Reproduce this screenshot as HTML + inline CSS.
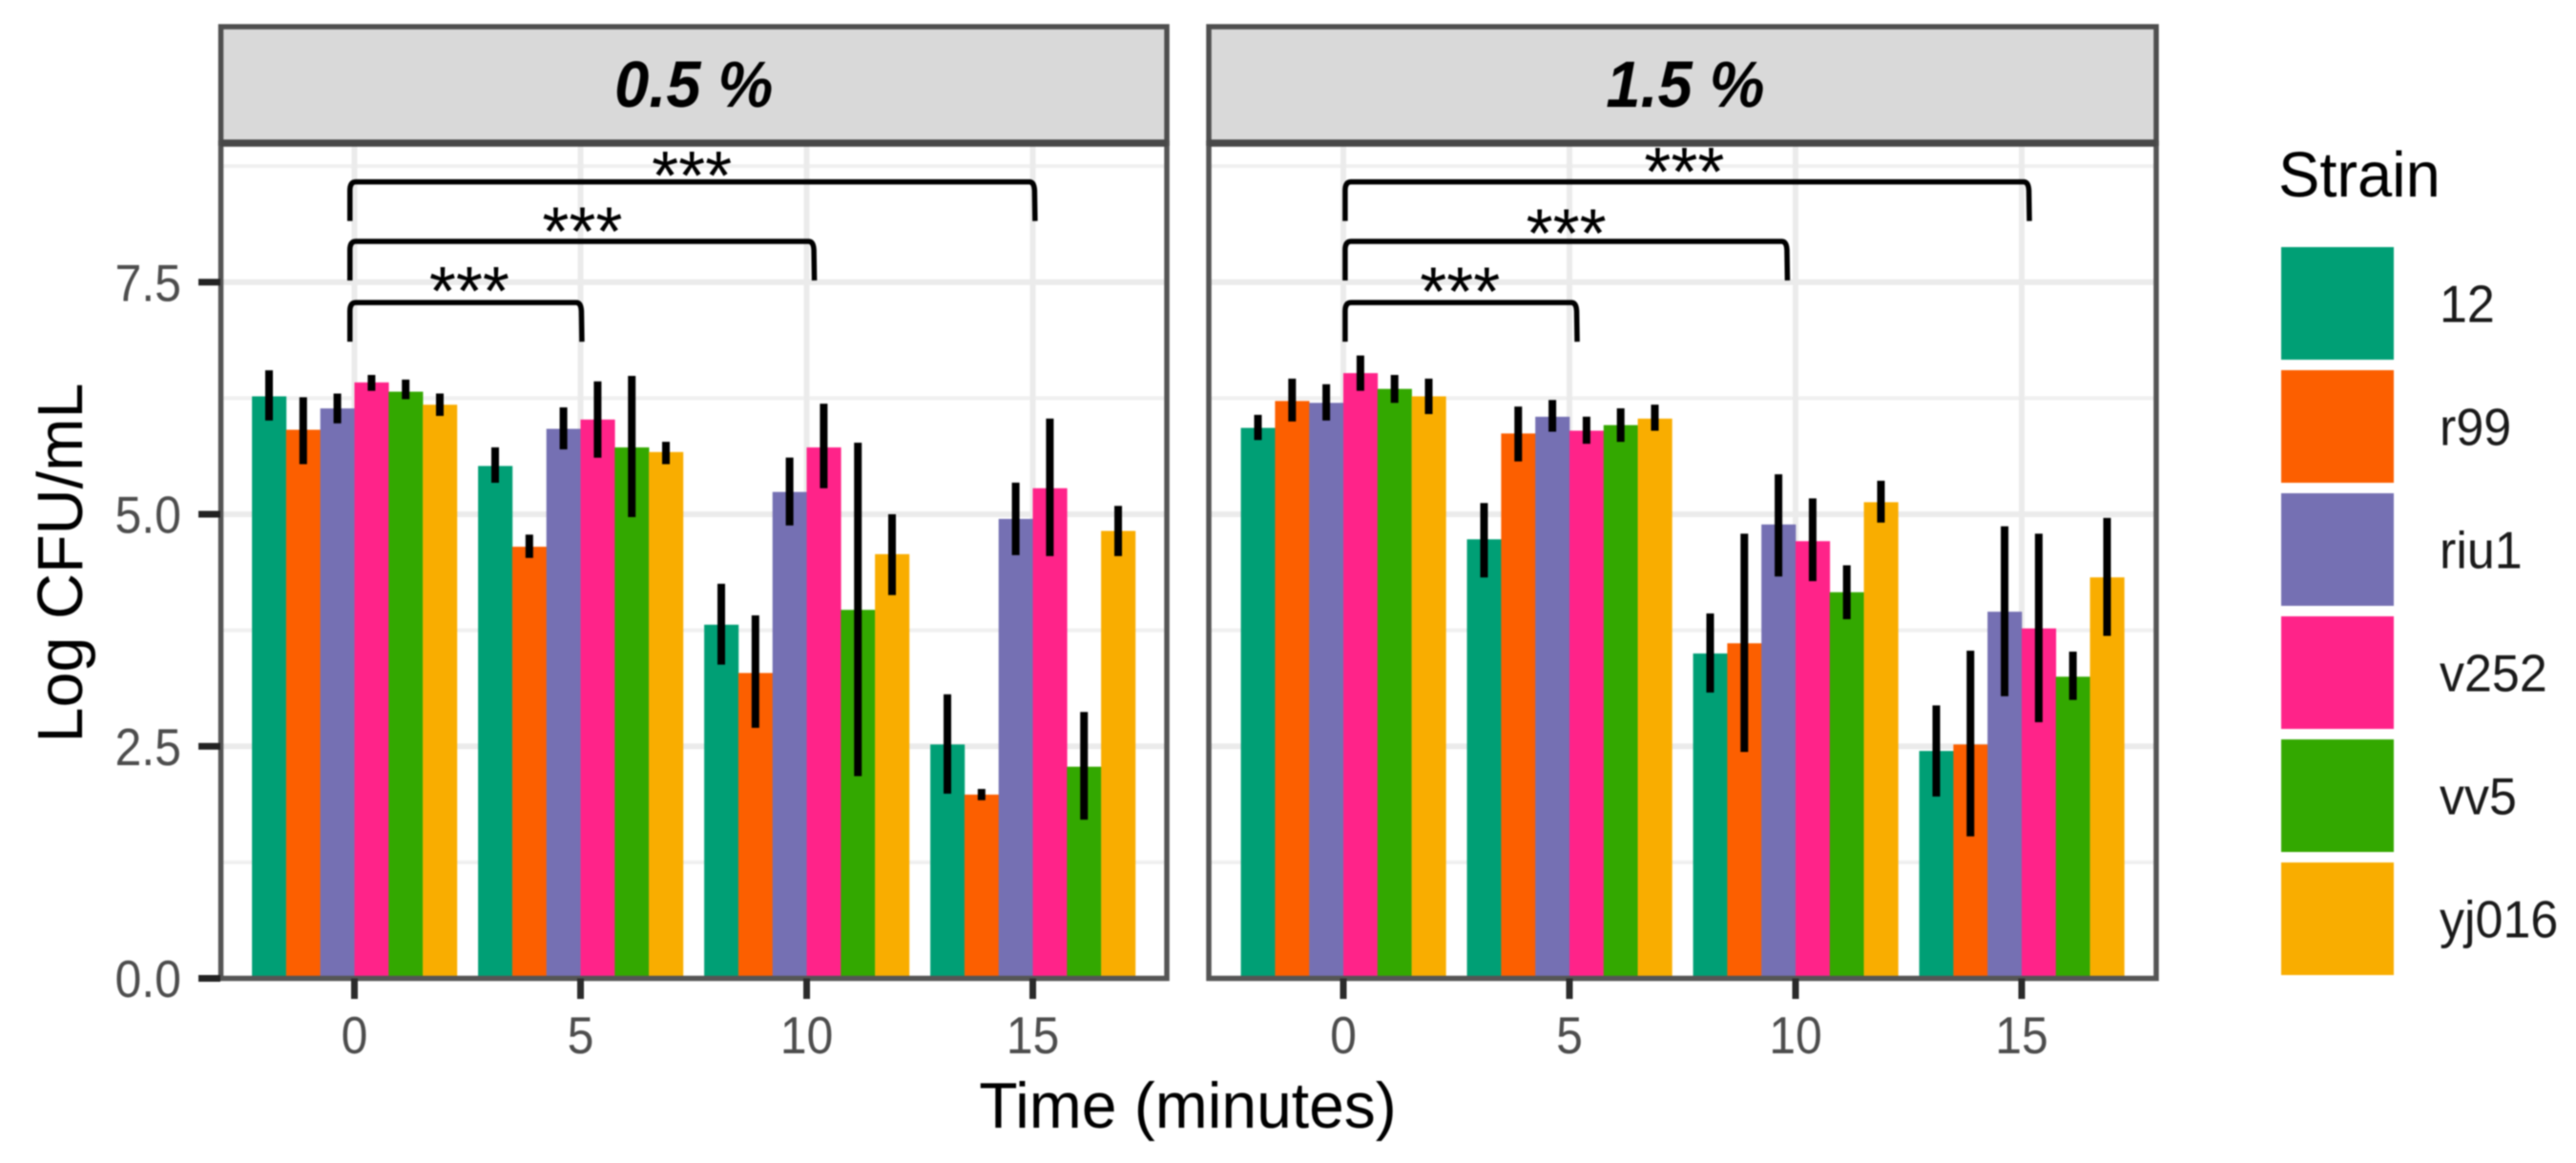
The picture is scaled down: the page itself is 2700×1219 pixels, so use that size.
<!DOCTYPE html>
<html lang="en">
<head>
<meta charset="utf-8">
<title>Log CFU/mL over time by strain</title>
<style>
html,body{margin:0;padding:0;background:#fff;width:2700px;height:1219px;overflow:hidden}
svg{display:block;filter:blur(.8px)}
text{font-family:"Liberation Sans",sans-serif}
</style>
</head>
<body>
<svg id="chart" xmlns="http://www.w3.org/2000/svg" width="2700" height="1219" viewBox="0 0 2700 1219">
  <rect x="0" y="0" width="2700" height="1219" fill="#fff"/>
  <text transform="translate(86,590) rotate(-90)" text-anchor="middle" font-size="66.5" fill="#000">Log CFU/mL</text>
  <text transform="translate(1245,1182) scale(1,1.03)" text-anchor="middle" font-size="66" fill="#000">Time (minutes)</text>
  <text transform="translate(2388,206) scale(1,1.03)" font-size="65" fill="#000">Strain</text>
</svg>
<script>
const times = [0, 5, 10, 15];
const strains = ['12', 'r99', 'riu1', 'v252', 'vv5', 'yj016'];
const panelLabels = ['0.5 %', '1.5 %'];
const yTickValues = [0, 2.5, 5, 7.5];
const yTickLabels = ['0.0', '2.5', '5.0', '7.5'];
const yMinorValues = [1.25, 3.75, 6.25, 8.75];

// Rows are times, columns are strains.
const meanPanel1 = [
  [6.27, 5.91, 6.14, 6.42, 6.32, 6.18],
  [5.52, 4.65, 5.92, 6.02, 5.72, 5.67],
  [3.81, 3.29, 5.24, 5.72, 3.97, 4.57],
  [2.52, 1.98, 4.95, 5.28, 2.28, 4.82]
];
const upperPanel1 = [
  [6.53, 6.24, 6.28, 6.48, 6.43, 6.28],
  [5.70, 4.76, 6.13, 6.41, 6.47, 5.76],
  [4.23, 3.89, 5.59, 6.17, 5.75, 4.98],
  [3.04, 2.02, 5.32, 6.01, 2.85, 5.07]
];
const lowerPanel1 = [
  [6.03, 5.56, 6.00, 6.35, 6.26, 6.08],
  [5.36, 4.55, 5.72, 5.63, 4.99, 5.56],
  [3.40, 2.72, 4.90, 5.30, 2.20, 4.15],
  [2.01, 1.94, 4.58, 4.57, 1.73, 4.57]
];
const meanPanel2 = [
  [5.93, 6.22, 6.20, 6.52, 6.35, 6.27],
  [4.73, 5.87, 6.05, 5.90, 5.96, 6.03],
  [3.50, 3.61, 4.89, 4.71, 4.16, 5.13],
  [2.45, 2.52, 3.95, 3.77, 3.25, 4.32]
];
const upperPanel2 = [
  [6.05, 6.44, 6.38, 6.69, 6.48, 6.44],
  [5.10, 6.14, 6.21, 6.03, 6.12, 6.16],
  [3.91, 4.77, 5.41, 5.15, 4.43, 5.34],
  [2.92, 3.51, 4.85, 4.77, 3.50, 4.94]
];
const lowerPanel2 = [
  [5.82, 6.02, 6.03, 6.35, 6.22, 6.10],
  [4.34, 5.59, 5.91, 5.78, 5.80, 5.92],
  [3.10, 2.46, 4.35, 4.30, 3.89, 4.93],
  [1.98, 1.55, 3.06, 2.78, 3.02, 3.71]
];

// Significance brackets, in axis units (minutes / log CFU).
const bracketStartPanel1 = [-0.1, -0.1, -0.1];
const bracketEndPanel1 = [5.03, 10.17, 15.05];
const bracketStartPanel2 = [0.04, 0.04, 0.04];
const bracketEndPanel2 = [5.17, 9.82, 15.17];
const bracketTopPanel1 = [7.28, 7.94, 8.58];
const bracketTopPanel2 = [7.28, 7.94, 8.58];
const starTimePanel1 = [2.54, 5.04, 7.46];
const starTimePanel2 = [2.58, 4.93, 7.54];
const starLevelPanel1 = [7.50, 8.14, 8.74];
const starLevelPanel2 = [7.49, 8.12, 8.78];
const significanceLabel = '***';

const panelMeans = [meanPanel1, meanPanel2];
const panelUppers = [upperPanel1, upperPanel2];
const panelLowers = [lowerPanel1, lowerPanel2];
const panelBracketStarts = [bracketStartPanel1, bracketStartPanel2];
const panelBracketEnds = [bracketEndPanel1, bracketEndPanel2];
const panelBracketTops = [bracketTopPanel1, bracketTopPanel2];
const panelStarTimes = [starTimePanel1, starTimePanel2];
const panelStarLevels = [starLevelPanel1, starLevelPanel2];

const strainColors = ['#009F75', '#FC5F00', '#7570B3', '#FF2389', '#33A800', '#F9AD00'];
const panelLeft = [231.5, 1267];
const panelRight = [1223, 2260];
const xZero = [371.5, 1408];
const pxPerMinute = 47.4;
const pxPerUnit = 97.3;
const yZero = 1025.5;
const panelTop = 150;
const stripTop = 26;
const barWidth = 35.8;
const errorCapExtension = 2;

const svg = document.getElementById('chart');
const NS = 'http://www.w3.org/2000/svg';

function xScale(panel, t) { return xZero[panel] + t * pxPerMinute; }
function yScale(v) { return yZero - v * pxPerUnit; }

function make(tag, parent, props) {
  const el = document.createElementNS(NS, tag);
  for (const key in props) el.setAttribute(key, props[key]);
  parent.appendChild(el);
  return el;
}

function drawPanel(p) {
  const group = make('g', svg, {});
  
  
  const L = panelLeft[p], R = panelRight[p];

  yMinorValues.forEach(function (v) {
    const line = make('line', group, { x1: L, x2: R, y1: yScale(v), y2: yScale(v), stroke: '#F0F0F0', 'stroke-width': 4 });
    
    
  });
  yTickValues.forEach(function (v) {
    const line = make('line', group, { x1: L, x2: R, y1: yScale(v), y2: yScale(v), stroke: '#EBEBEB', 'stroke-width': 6 });
    
    
  });
  times.forEach(function (t) {
    const line = make('line', group, { x1: xScale(p, t), x2: xScale(p, t), y1: panelTop, y2: yZero, stroke: '#EBEBEB', 'stroke-width': 6 });
    
    
  });

  times.forEach(function (t, ti) {
    strains.forEach(function (s, si) {
      const cx = xScale(p, t) + (si - 2.5) * barWidth;
      const v = panelMeans[p][ti][si];
      const bar = make('rect', group, { x: cx - barWidth / 2, y: yScale(v), width: barWidth + 0.3, height: yZero - yScale(v), fill: strainColors[si] });
      
      
    });
  });
  times.forEach(function (t, ti) {
    strains.forEach(function (s, si) {
      const cx = xScale(p, t) + (si - 2.5) * barWidth;
      const err = make('line', group, { x1: cx, x2: cx, y1: yScale(panelUppers[p][ti][si]) - errorCapExtension, y2: yScale(panelLowers[p][ti][si]) + errorCapExtension, stroke: '#000', 'stroke-width': 8 });
      
      
    });
  });

  panelBracketEnds[p].forEach(function (end, i) {
    const x1 = xScale(p, panelBracketStarts[p][i]);
    const x2 = xScale(p, end);
    const yt = yScale(panelBracketTops[p][i]);
    const yb = yt + 41;
    const d = 'M' + x1 + ' ' + yb + ' L' + x1 + ' ' + (yt + 9) + ' Q' + x1 + ' ' + yt + ' ' + (x1 + 6) + ' ' + yt +
      ' L' + (x2 - 6) + ' ' + yt + ' Q' + (x2 - 1) + ' ' + yt + ' ' + (x2 - 0.5) + ' ' + (yt + 9) + ' L' + x2 + ' ' + yb;
    const path = make('path', group, { d: d, fill: 'none', stroke: '#000', 'stroke-width': 5.5 });
    
    
    const star = make('text', group, { x: xScale(p, panelStarTimes[p][i]), y: yScale(panelStarLevels[p][i]) + 34, 'text-anchor': 'middle', 'font-size': 72, fill: '#000' });
    star.textContent = significanceLabel;
    
    
  });

  const border = make('rect', group, { x: L, y: panelTop, width: R - L, height: yZero - panelTop, fill: 'none', stroke: '#555', 'stroke-width': 5.5 });
  
  

  const strip = make('rect', group, { x: L, y: stripTop + 2, width: R - L, height: panelTop - stripTop - 2, fill: '#D9D9D9', stroke: '#4F4F4F', 'stroke-width': 5.5 });
  
  
  const stripRule = make('line', group, { x1: L, x2: R, y1: panelTop, y2: panelTop, stroke: '#484848', 'stroke-width': 7.5 });
  
  
  const stripLabel = make('text', group, { transform: 'translate(' + ((L + R) / 2 + (p === 1 ? 3 : 0)) + ',112) scale(1,1.05)', 'text-anchor': 'middle', 'font-size': 65, 'font-weight': 'bold', 'font-style': 'italic', fill: '#000' });
  stripLabel.textContent = panelLabels[p];
  
  

  times.forEach(function (t) {
    const tick = make('line', group, { x1: xScale(p, t), x2: xScale(p, t), y1: yZero, y2: 1047, stroke: '#2B2B2B', 'stroke-width': 7 });
    
    
    const label = make('text', group, { transform: 'translate(' + xScale(p, t) + ',1104) scale(1,1.1)', 'text-anchor': 'middle', 'font-size': 50, fill: '#4D4D4D' });
    label.textContent = String(t);
    
    
  });
}

panelLabels.forEach(function (label, p) { drawPanel(p); });

yTickValues.forEach(function (v, i) {
  const tick = make('line', svg, { x1: 208, x2: 231, y1: yScale(v), y2: yScale(v), stroke: '#222', 'stroke-width': 7 });
  
  
  const label = make('text', svg, { transform: 'translate(190,' + (yScale(v) + 19.5) + ') scale(1,1.1)', 'text-anchor': 'end', 'font-size': 50, fill: '#4D4D4D' });
  label.textContent = yTickLabels[i];
  
  
});

strains.forEach(function (s, i) {
  const top = 259 + i * 129;
  const swatch = make('rect', svg, { x: 2391, y: top, width: 118, height: 118, fill: strainColors[i] });
  
  
  const label = make('text', svg, { transform: 'translate(2557,' + (top + 78.5) + ') scale(1,1.06)', 'font-size': 52, fill: '#1A1A1A' });
  label.textContent = s;
  
  
});
</script>
</body>
</html>
